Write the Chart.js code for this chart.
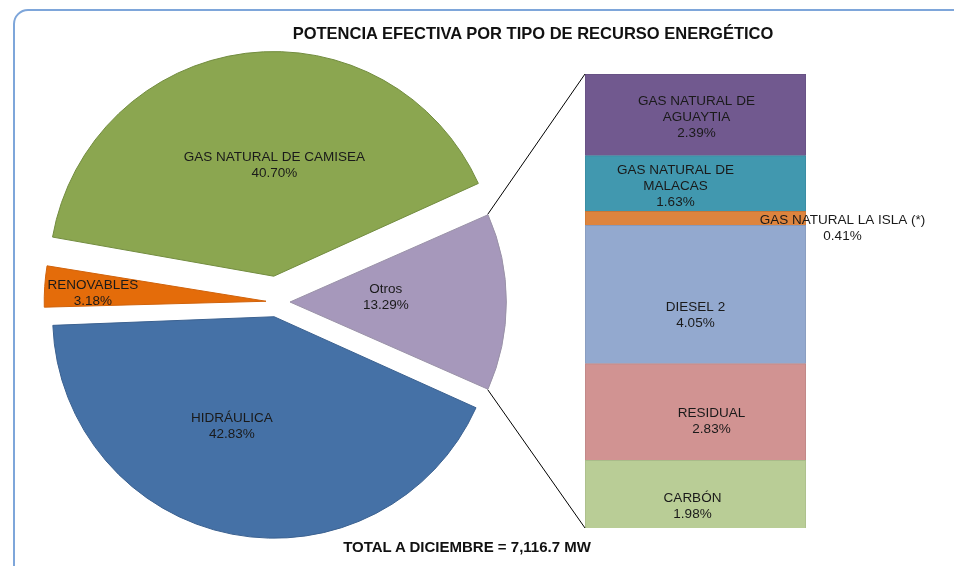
<!DOCTYPE html>
<html lang="es">
<head>
<meta charset="utf-8">
<title>Potencia efectiva por tipo de recurso energético</title>
<script src="https://cdn.jsdelivr.net/npm/chart.js@4.4.1/dist/chart.umd.min.js"></script>
<style>
    body { margin: 0; background: #fff; font-family: "Liberation Sans", Arial, sans-serif; }
    #wrap { position: relative; width: 954px; height: 566px; overflow: hidden; background: #fff; }
    #frame { position: absolute; left: 13px; top: 9px; width: 1000px; height: 600px;
             border: 2px solid #7ea6da; border-radius: 15px; box-sizing: border-box; }
    canvas { position: absolute; left: 0; top: 0; }
    .title { position: absolute; left: 133px; width: 800px; top: 24px; text-align: center;
             font-weight: bold; font-size: 16.5px; color: #111; line-height: 18px; }
    .footer { position: absolute; left: 267px; width: 400px; top: 538px; text-align: center;
              font-weight: bold; font-size: 15px; color: #111; line-height: 17px; }
</style>
</head>
<body>
<div id="wrap">
    <div id="frame"></div>
    <canvas id="pieChart" width="954" height="566"></canvas>
    <canvas id="barChart" width="954" height="566"></canvas>
    <div class="title">POTENCIA EFECTIVA POR TIPO DE RECURSO ENERGÉTICO</div>
    <div class="footer">TOTAL A DICIEMBRE = 7,116.7 MW</div>
</div>

<script>
// Pie data (clockwise from the "Otros" slice)
const pieLabels = ['Otros', 'HIDRÁULICA', 'RENOVABLES', 'GAS NATURAL DE CAMISEA'];
const pieValues = [13.29, 42.83, 3.18, 40.70];

// Breakdown of "Otros" (bottom to top of the bar)
const barLabels = ['CARBÓN', 'RESIDUAL', 'DIESEL 2', 'GAS NATURAL LA ISLA (*)', 'GAS NATURAL DE MALACAS', 'GAS NATURAL DE AGUAYTIA'];
const barValues = [1.98, 2.83, 4.05, 0.41, 1.63, 2.39];

// Styles
const pieColors = ['#a698bb', '#4571a6', '#e46c0a', '#8ba650'];
const pieBorders = ['#9a92a8', '#3b6190', '#d0630c', '#728c3f'];
const pieOffsets = [13, 15, 11, 26]; // explode distance in px
const barColors = ['#b9cd96', '#d19392', '#93a9cf', '#dd843e', '#4198af', '#71598f'];
const barBorders = ['#a9bb8a', '#bb8584', '#8699bb', '#c77737', '#3a889e', '#665182'];

// label text lines and placement tweaks
const pieText = [['Otros', '13.29%'], ['HIDRÁULICA', '42.83%'], ['RENOVABLES', '3.18%'], ['GAS NATURAL DE CAMISEA', '40.70%']];
const pieLabelPos = [{ f: 0.45, dx: 0, dy: -5 }, { f: 0.52, dx: -21, dy: 1 }, { f: 0.81, dx: -1, dy: 4 }, { f: 0.54, dx: 15, dy: 3 }];
const barText = [['CARBÓN', '1.98%'], ['RESIDUAL', '2.83%'], ['DIESEL 2', '4.05%'], ['GAS NATURAL LA ISLA (*)', '0.41%'],
                 ['GAS NATURAL DE', 'MALACAS', '1.63%'], ['GAS NATURAL DE', 'AGUAYTIA', '2.39%']];
const barLabelPos = [{ dx: -3, dy: 12 }, { dx: 16, dy: 9 }, { dx: 0, dy: 21 }, { dx: 147, dy: 10 }, { dx: -20, dy: 3 }, { dx: 1, dy: 2 }];

const FONT = '13.5px "Liberation Sans", Arial, sans-serif';
const LINE_H = 16;

function drawLines(ctx, lines, x, y) {
    ctx.save();
    ctx.font = FONT;
    ctx.fillStyle = '#1a1a1a';
    ctx.textAlign = 'center';
    ctx.textBaseline = 'middle';
    const top = y - (lines.length - 1) * LINE_H / 2;
    lines.forEach((t, i) => ctx.fillText(t, x, top + i * LINE_H));
    ctx.restore();
}

const otrosHalf = pieValues[0] / 100 * 180;

// Pie labels
const pieLabelPlugin = {
    id: 'pieLabels',
    afterDatasetsDraw(chart) {
        const ctx = chart.ctx;
        chart.getDatasetMeta(0).data.forEach((arc, i) => {
            const p = arc.getProps(['x', 'y', 'startAngle', 'endAngle', 'outerRadius']);
            const mid = (p.startAngle + p.endAngle) / 2;
            const d = pieOffsets[i] + p.outerRadius * pieLabelPos[i].f;
            const x = p.x + Math.cos(mid) * d + pieLabelPos[i].dx;
            const y = p.y + Math.sin(mid) * d + pieLabelPos[i].dy;
            drawLines(ctx, pieText[i], x, y);
        });
    }
};

const pieChart = new Chart(document.getElementById('pieChart'), {
    type: 'pie',
    data: {
        labels: pieLabels,
        datasets: [{
            data: pieValues,
            backgroundColor: pieColors,
            borderColor: pieBorders,
            borderWidth: 1,
            // chart.js moves an arc by offset / 4
            offset: pieOffsets.map(o => o * 4)
        }]
    },
    options: {
        responsive: false,
        animation: false,
        rotation: 90 - otrosHalf,
        radius: 213,
        layout: { padding: { left: 0, right: 400, top: 38, bottom: 0 } },
        plugins: { legend: { display: false }, tooltip: { enabled: false } }
    },
    plugins: [pieLabelPlugin]
});

// Bar labels + connector lines to the "Otros" slice
const barLabelPlugin = {
    id: 'barLabels',
    afterDatasetsDraw(chart) {
        const ctx = chart.ctx;
        barValues.forEach((v, i) => {
            const bar = chart.getDatasetMeta(i).data[0];
            const p = bar.getProps(['x', 'y', 'base']);
            drawLines(ctx, barText[i], p.x + barLabelPos[i].dx, (p.y + p.base) / 2 + barLabelPos[i].dy);
        });

        // outer corners of the exploded "Otros" arc (chart.js also grows the radius a bit)
        const arc = pieChart.getDatasetMeta(0).data[0];
        const a = arc.getProps(['x', 'y', 'startAngle', 'endAngle', 'outerRadius', 'circumference']);
        const mid = (a.startAngle + a.endAngle) / 2;
        const off = pieOffsets[0];
        const r = a.outerRadius + off * (1 - Math.sin(Math.min(Math.PI, a.circumference)));
        const cx = a.x + Math.cos(mid) * off;
        const cy = a.y + Math.sin(mid) * off;
        const topBar = chart.getDatasetMeta(barValues.length - 1).data[0].getProps(['x', 'y', 'width']);
        const botBar = chart.getDatasetMeta(0).data[0].getProps(['x', 'base', 'width']);

        ctx.save();
        ctx.strokeStyle = '#000';
        ctx.lineWidth = 1;
        ctx.beginPath();
        ctx.moveTo(cx + Math.cos(a.startAngle) * r, cy + Math.sin(a.startAngle) * r);
        ctx.lineTo(topBar.x - topBar.width / 2, topBar.y);
        ctx.moveTo(cx + Math.cos(a.endAngle) * r, cy + Math.sin(a.endAngle) * r);
        ctx.lineTo(botBar.x - botBar.width / 2, botBar.base);
        ctx.stroke();
        ctx.restore();
    }
};

const barTotal = barValues.reduce((s, v) => s + v, 0);

new Chart(document.getElementById('barChart'), {
    type: 'bar',
    data: {
        labels: ['Otros'],
        datasets: barValues.map((v, i) => ({
            label: barLabels[i],
            data: [v],
            backgroundColor: barColors[i],
            borderColor: barBorders[i],
            borderWidth: 1,
            barPercentage: 1,
            categoryPercentage: 1
        }))
    },
    options: {
        responsive: false,
        animation: false,
        layout: { padding: { left: 585, right: 148, top: 74, bottom: 38 } },
        scales: {
            x: { stacked: true, display: false },
            y: { stacked: true, display: false, min: 0, max: barTotal }
        },
        plugins: { legend: { display: false }, tooltip: { enabled: false } }
    },
    plugins: [barLabelPlugin]
});
</script>
</body>
</html>
